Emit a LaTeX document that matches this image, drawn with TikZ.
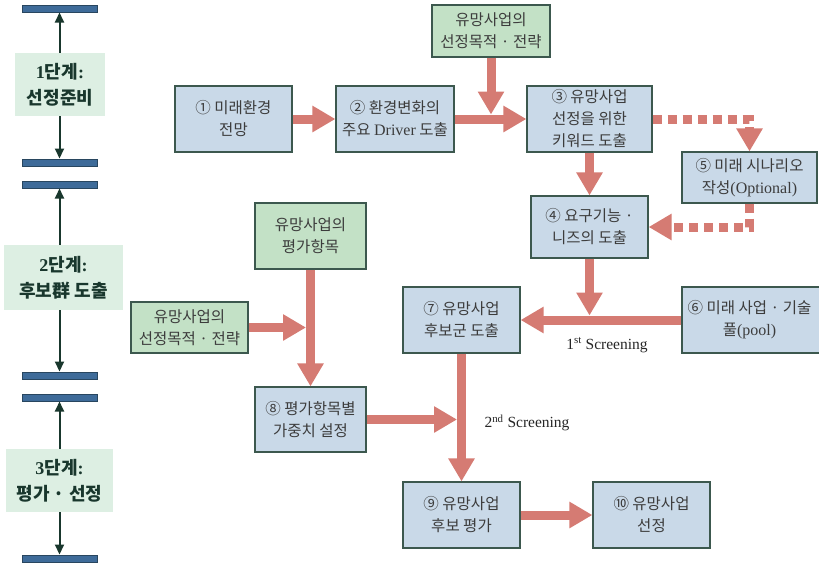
\documentclass[tikz,border=0pt]{standalone}
\usepackage{fontspec}
\setmainfont{Liberation Serif}
\newfontfamily\kr{Noto Sans CJK KR}
\usetikzlibrary{arrows.meta}
\definecolor{arrowc}{RGB}{213,123,115}
\definecolor{boxblue}{RGB}{201,217,232}
\definecolor{boxgreen}{RGB}{195,225,198}
\definecolor{stagegreen}{RGB}{221,239,227}
\definecolor{barblue}{RGB}{62,107,153}
\definecolor{barbord}{RGB}{40,70,95}
\definecolor{bordc}{RGB}{60,88,78}
\definecolor{txtc}{RGB}{60,60,60}
\definecolor{darkc}{RGB}{25,55,45}
\tikzset{
  mainbox/.style={draw=bordc, line width=1.2pt, fill=boxblue, align=center, inner sep=0pt,
    text=txtc, font=\kr\fontsize{15.5}{22}\selectfont},
  greenbox/.style={mainbox, fill=boxgreen},
  stagebox/.style={fill=stagegreen, align=center, inner sep=0pt, text=darkc,
    font=\kr\bfseries\fontsize{18}{26}\selectfont},
  barnode/.style={draw=barbord, line width=1pt, fill=barblue, minimum width=75pt, minimum height=7pt, inner sep=0pt},
  fat/.style={draw=arrowc, line width=9pt, -{Triangle[length=23pt,width=25pt]}},
  fatdot/.style={fat, dash pattern=on 9pt off 6pt},
  thinarrow/.style={draw=darkc, line width=2pt, -{Triangle[length=10pt,width=9pt]}},
  lbl/.style={font=\fontsize{15.5}{18}\selectfont, text=black!85, inner sep=0pt},
}
\begin{document}
\begin{tikzpicture}[x=1pt, y=-1pt]
\useasboundingbox (0,0) rectangle (819,563);
\clip (0,0) rectangle (819,563);
\fill[white] (0,0) rectangle (819,563);

% left column
\node[barnode] (b1) at (59.5,8.5) {};
\node[barnode] (b2) at (59.5,162.5) {};
\node[barnode] (b3) at (59.5,184.5) {};
\node[barnode] (b4) at (59.5,375.5) {};
\node[barnode] (b5) at (59.5,397.5) {};
\node[barnode] (b6) at (59.5,558.5) {};
\node[stagebox, minimum width=90pt, minimum height=63pt] (s1) at (60,84.5) {{\rmfamily 1}단계{\rmfamily :}\\선정준비};
\node[stagebox, minimum width=119pt, minimum height=65pt] (s2) at (63.5,277.5) {{\rmfamily 2}단계{\rmfamily :}\\후보群 도출};
\node[stagebox, minimum width=107pt, minimum height=63pt] (s3) at (59.5,480.5) {{\rmfamily 3}단계{\rmfamily :}\\평가 · 선정};
\draw[thinarrow] (s1.north -| b1.south) -- (b1.south);
\draw[thinarrow] (s1.south -| b2.north) -- (b2.north);
\draw[thinarrow] (s2.north -| b3.south) -- (b3.south);
\draw[thinarrow] (s2.south -| b4.north) -- (b4.north);
\draw[thinarrow] (s3.north -| b5.south) -- (b5.south);
\draw[thinarrow] (s3.south -| b6.north) -- (b6.north);

% main flow
\node[greenbox, minimum width=118pt, minimum height=52pt] (g1) at (491,31) {유망사업의\\선정목적 · 전략};
\node[mainbox, minimum width=117pt, minimum height=66pt] (n1) at (233.5,119) {① 미래환경\\전망};
\node[mainbox, minimum width=118pt, minimum height=66pt] (n2) at (395,119) {② 환경변화의\\주요 {\rmfamily\fontsize{16}{22}\selectfont Driver} 도출};
\node[mainbox, minimum width=125pt, minimum height=66pt] (n3) at (589.5,119) {③ 유망사업\\선정을 위한\\키워드 도출};
\node[mainbox, minimum width=135pt, minimum height=51pt] (n5) at (749.5,177.5) {⑤ 미래 시나리오\\작성{\rmfamily\fontsize{16}{22}\selectfont (Optional)}};
\node[mainbox, minimum width=117pt, minimum height=62pt] (n4) at (589.5,227) {④ 요구기능 ·\\니즈의 도출};
\filldraw[draw=bordc, line width=1.2pt, fill=boxblue] (682,287) rectangle (840,353);
\node[mainbox, draw=none, fill=none, minimum width=135pt, minimum height=66pt] (n6) at (749.5,320) {⑥ 미래 사업 · 기술\\풀{\rmfamily\fontsize{16}{22}\selectfont (pool)}};
\node[mainbox, minimum width=117pt, minimum height=66pt] (n7) at (461.5,320) {⑦ 유망사업\\후보군 도출};
\node[greenbox, minimum width=111pt, minimum height=66pt] (g2) at (310.5,236) {유망사업의\\평가항목};
\node[greenbox, minimum width=117pt, minimum height=51pt] (g3) at (189.5,327.5) {유망사업의\\선정목적 · 전략};
\node[mainbox, minimum width=111pt, minimum height=65pt] (n8) at (310.5,419.5) {⑧ 평가항목별\\가중치 설정};
\node[mainbox, minimum width=117pt, minimum height=66pt] (n9) at (461.5,515) {⑨ 유망사업\\후보 평가};
\node[mainbox, minimum width=117pt, minimum height=66pt] (n10) at (651.5,515) {⑩ 유망사업\\선정};

\coordinate (j1) at (491,114.5);
\coordinate (j2) at (589.5,315.5);
\coordinate (j3) at (306,327.5);
\coordinate (j4) at (457,419.5);

\draw[fat] (n1.east) -- (n2.west);
\draw[fat] (n2.east) -- (n3.west);
\draw[fat] (g1.south) -- (j1);
\draw[fatdot] (n3.east) -| (n5.north);
\draw[fatdot] (n5.south) |- (n4.east);
\draw[fat] (n3.south) -- (n4.north);
\draw[fat] (n6.west) -- (n7.east);
\draw[fat] (n4.south) -- (j2);
\draw[fat] (g2.south) -- (n8.north);
\draw[fat] (g3.east) -- (j3);
\draw[fat] (n7.south) -- (n9.north);
\draw[fat] (n8.east) -- (j4);
\draw[fat] (n9.east) -- (n10.west);

\node[lbl] (l1) at (607,345) {1\textsuperscript{st} Screening};
\node[lbl] (l2) at (527,423) {2\textsuperscript{nd} Screening};
\end{tikzpicture}
\end{document}
